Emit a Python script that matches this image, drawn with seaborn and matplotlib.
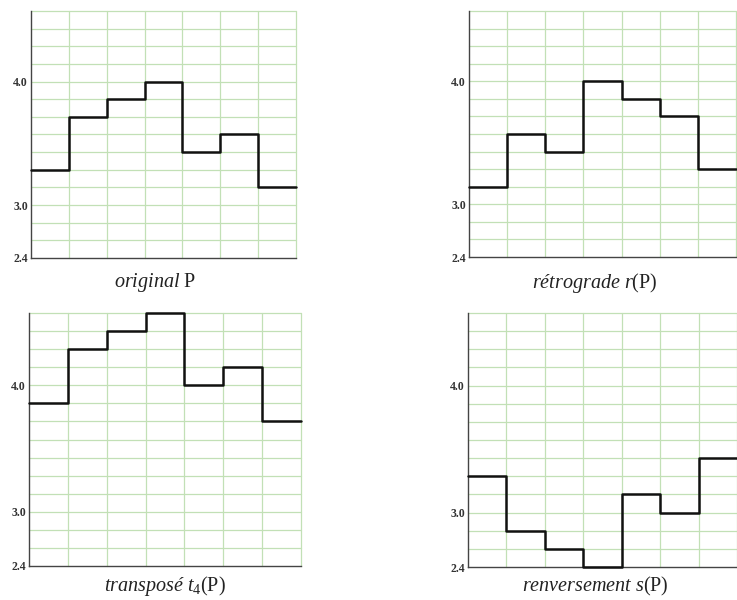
import numpy as np
import pandas as pd
import matplotlib
matplotlib.use("Agg")
import matplotlib.pyplot as plt
import seaborn as sns

# Data (grid units: 0 -> 2.4, 3 -> 3.0, 10 -> 4.0)
original = [5, 8, 9, 10, 6, 7, 4]
retrograde = [4, 7, 6, 10, 9, 8, 5]
transpose = [9, 12, 13, 14, 10, 11, 8]
renversement = [5, 2, 1, 0, 4, 3, 6]
ytick_pos = [0, 3, 10]
ytick_labels = ["2.4", "3.0", "4.0"]
captions = [
    r"$\mathit{original}\ \mathrm{P}$",
    r"$\mathit{rétrograde}\ \mathit{r}\mathrm{(P)}$",
    r"$\mathit{transposé}\ \mathit{t}_{\mathrm{4}}\mathrm{(P)}$",
    r"$\mathit{renversement}\ \mathit{s}\mathrm{(P)}$",
]

sns.set_style("white")
plt.rcParams["font.family"] = ["Liberation Serif", "DejaVu Serif"]
plt.rcParams["mathtext.fontset"] = "custom"
plt.rcParams["mathtext.rm"] = "Liberation Serif"
plt.rcParams["mathtext.it"] = "Liberation Serif:italic"
plt.rcParams["mathtext.bf"] = "Liberation Serif:bold"

W, H = 737, 600
fig = plt.figure(figsize=(W / 100, H / 100), dpi=100)

# (left, right, top, bottom) in pixels; caption center (x, y)
boxes = [
    ((31, 296, 11, 258), (155, 283)),
    ((469, 736, 11, 257), (595, 283)),
    ((29, 301, 313, 566), (165, 586)),
    ((468, 737, 313, 567), (595, 586)),
]
series = [original, retrograde, transpose, renversement]
grid_color = "#c2e0b6"

for vals, ((l, r, t, b), (cx, cy)), cap in zip(series, boxes, captions):
    ax = fig.add_axes([l / W, 1 - b / H, (r - l) / W, (b - t) / H])
    n = len(vals)
    df = pd.DataFrame({"x": np.arange(n + 1), "y": list(vals) + [vals[-1]]})
    ax.set_xlim(0, n)
    ax.set_ylim(0, 14)
    for gx in range(1, n + 1):
        ax.axvline(gx, color=grid_color, lw=0.9, zorder=0, clip_on=False)
    for gy in range(1, 15):
        ax.axhline(gy, color=grid_color, lw=0.9, zorder=0, clip_on=False)
    sns.lineplot(data=df, x="x", y="y", drawstyle="steps-post", color="#111111",
                 lw=1.8, ax=ax, zorder=3, clip_on=False)
    ax.set_xlabel("")
    ax.set_ylabel("")
    ax.set_xticks(range(0, n + 1))
    ax.set_xticklabels([])
    ax.set_yticks(range(0, 15))
    ax.set_yticklabels([ytick_labels[ytick_pos.index(k)] if k in ytick_pos else "" for k in range(15)],
                       fontsize=8.5, fontweight="bold", color="#333333")
    ax.tick_params(axis="both", length=2.5, width=1, direction="inout", color="#333333", pad=1)
    for s in ["top", "right"]:
        ax.spines[s].set_visible(False)
    for s in ["left", "bottom"]:
        ax.spines[s].set_color("#444444")
        ax.spines[s].set_linewidth(1.0)
    fig.text(cx / W, 1 - cy / H, cap, ha="center", va="center", fontsize=14.5, color="#222222")

fig.savefig("out.png", dpi=100)
